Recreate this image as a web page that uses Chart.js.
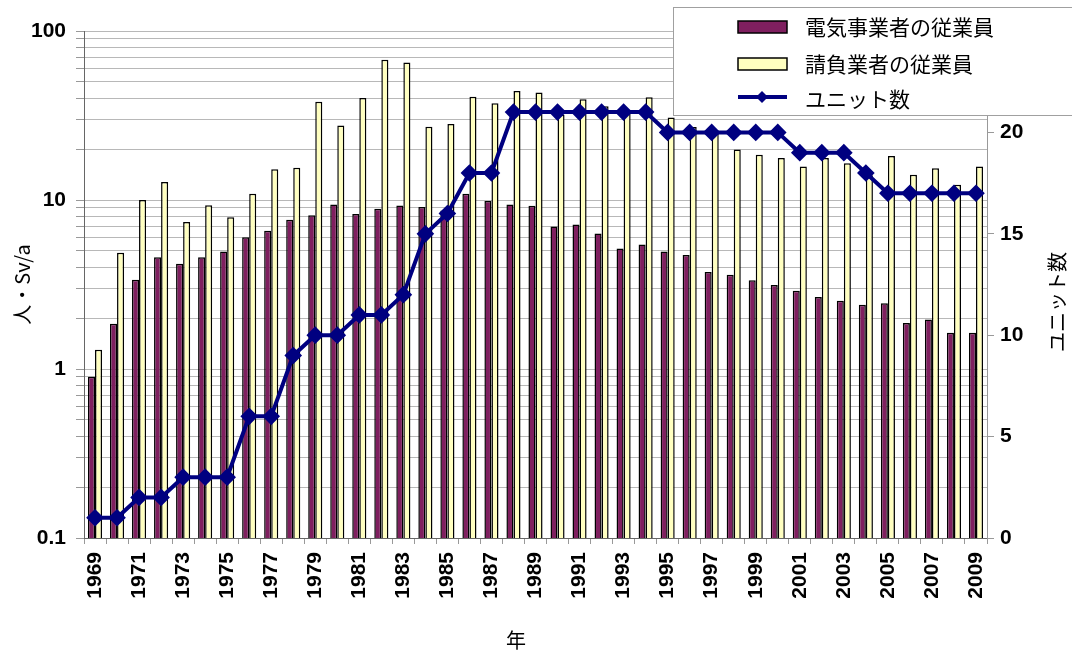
<!DOCTYPE html>
<html>
<head>
<meta charset="utf-8">
<script src="https://cdn.jsdelivr.net/npm/chart.js@4"></script>
<style>
  body { margin: 0; background: #fff; }
  #wrap { width: 1072px; height: 655px; position: relative; }
</style>
</head>
<body>
<div id="wrap"><canvas id="chart"></canvas></div>
<script>
const years = ['1969','1970','1971','1972','1973','1974','1975','1976','1977','1978',
  '1979','1980','1981','1982','1983','1984','1985','1986','1987','1988',
  '1989','1990','1991','1992','1993','1994','1995','1996','1997','1998',
  '1999','2000','2001','2002','2003','2004','2005','2006','2007','2008','2009'];

// 電気事業者の従業員 (人・Sv/a)
const denkiStaff = [0.9, 1.85, 3.37, 4.59, 4.2, 4.59, 4.96, 6.02, 6.57, 7.65,
  8.12, 9.41, 8.27, 8.87, 9.29, 9.08, 8.67, 10.9, 9.86, 9.41,
  9.25, 6.98, 7.17, 6.33, 5.17, 5.46, 4.96, 4.72, 3.75, 3.61,
  3.35, 3.14, 2.9, 2.67, 2.53, 2.4, 2.45, 1.87, 1.96, 1.64, 1.64];

// 請負業者の従業員 (人・Sv/a)
const ukeoiStaff = [1.3, 4.87, 10.0, 12.8, 7.4, 9.3, 7.9, 10.9, 15.2, 15.5,
  38.1, 27.6, 40.1, 67.6, 65.1, 27.1, 28.2, 40.8, 37.4, 44.2,
  43.2, 32, 39.4, 35.9, 33, 40.6, 30.8, 27, 25, 19.9,
  18.5, 17.7, 15.8, 17.7, 16.5, 14, 18.2, 14.1, 15.4, 12.3, 15.8];

// ユニット数
const units = [1, 1, 2, 2, 3, 3, 3, 6, 6, 9,
  10, 10, 11, 11, 12, 15, 16, 18, 18, 21,
  21, 21, 21, 21, 21, 21, 20, 20, 20, 20,
  20, 20, 19, 19, 19, 18, 17, 17, 17, 17, 17];

const leftDecades = [0.1, 1, 10, 100];
const rightTicks = [0, 5, 10, 15, 20];

const FONT = "'Liberation Sans', Arial, 'Noto Sans CJK JP', sans-serif";
const JP_FONT = "'Noto Sans CJK JP', 'Liberation Sans', sans-serif";
const MAROON = '#7f1f5f';
const CREAM = '#ffffc0';
const NAVY = '#000080';

// log ticks 1..9 in every decade so the grid has the minor lines
function logTickValues() {
  const out = [];
  for (let i = 0; i < leftDecades.length - 1; i++) {
    for (let m = 1; m < 10; m++) out.push(+(leftDecades[i] * m).toPrecision(3));
  }
  out.push(leftDecades[leftDecades.length - 1]);
  return out;
}

const legendBox = {
  id: 'legendBox',
  afterDraw(chart) {
    const ctx = chart.ctx;
    ctx.save();
    ctx.fillStyle = '#fff';
    ctx.strokeStyle = '#a0a0a0';
    ctx.lineWidth = 1;
    ctx.fillRect(673, 7, 410, 108);
    ctx.strokeRect(673.5, 7.5, 410, 108);

    ctx.font = '21px ' + JP_FONT;
    ctx.textBaseline = 'middle';
    ctx.textAlign = 'left';
    const items = [
      { text: '電気事業者の従業員', y: 27, kind: 'bar', color: MAROON },
      { text: '請負業者の従業員', y: 64, kind: 'bar', color: CREAM },
      { text: 'ユニット数', y: 99, kind: 'line', color: NAVY }
    ];
    items.forEach(it => {
      if (it.kind === 'bar') {
        ctx.fillStyle = it.color;
        ctx.fillRect(738, it.y - 6, 49, 12);
        ctx.strokeStyle = '#000';
        ctx.lineWidth = 1.5;
        ctx.strokeRect(738, it.y - 6, 49, 12);
      } else {
        ctx.strokeStyle = it.color;
        ctx.lineWidth = 4;
        ctx.beginPath();
        ctx.moveTo(738, it.y - 2);
        ctx.lineTo(787, it.y - 2);
        ctx.stroke();
        ctx.fillStyle = it.color;
        ctx.beginPath();
        ctx.moveTo(762, it.y - 8);
        ctx.lineTo(768, it.y - 2);
        ctx.lineTo(762, it.y + 4);
        ctx.lineTo(756, it.y - 2);
        ctx.closePath();
        ctx.fill();
      }
      ctx.fillStyle = '#000';
      ctx.fillText(it.text, 805, it.y);
    });

    // x axis title, a little left of the plot centre as in the original
    ctx.font = '20px ' + JP_FONT;
    ctx.textAlign = 'center';
    ctx.fillText('年', 516, 640);

    // right axis title, reading bottom to top
    ctx.translate(1057, 302);
    ctx.rotate(-Math.PI / 2);
    ctx.fillText('ユニット数', 0, 0);
    ctx.restore();
  }
};

new Chart(document.getElementById('chart'), {
  data: {
    labels: years,
    datasets: [
      {
        type: 'line',
        label: 'ユニット数',
        data: units,
        yAxisID: 'y2',
        borderColor: NAVY,
        backgroundColor: NAVY,
        borderWidth: 4,
        pointStyle: 'rectRot',
        pointRadius: 6,
        pointBackgroundColor: NAVY,
        pointBorderColor: NAVY,
        tension: 0,
        order: 0
      },
      {
        type: 'bar',
        label: '電気事業者の従業員',
        data: denkiStaff,
        yAxisID: 'y',
        backgroundColor: MAROON,
        borderColor: '#000',
        borderWidth: 1.5,
        categoryPercentage: 0.64,
        barPercentage: 1.0,
        order: 1
      },
      {
        type: 'bar',
        label: '請負業者の従業員',
        data: ukeoiStaff,
        yAxisID: 'y',
        backgroundColor: CREAM,
        borderColor: '#000',
        borderWidth: 1.5,
        categoryPercentage: 0.64,
        barPercentage: 1.0,
        order: 2
      }
    ]
  },
  options: {
    responsive: true,
    maintainAspectRatio: false,
    animation: false,
    layout: { padding: { top: 31, left: 0, right: 0, bottom: 0 } },
    plugins: { legend: { display: false }, tooltip: { enabled: false } },
    scales: {
      x: {
        offset: true,
        grid: { display: true, drawOnChartArea: false, tickLength: 6, color: '#999', offset: true },
        border: { color: '#666', width: 1 },
        ticks: {
          autoSkip: false,
          minRotation: 90,
          maxRotation: 90,
          padding: 8,
          color: '#000',
          font: { family: FONT, size: 21, weight: 'bold' },
          callback: (v, i) => (i % 2 === 0 ? years[i] : '')
        },
        afterFit: s => { s.height = 117; }
      },
      y: {
        type: 'logarithmic',
        position: 'left',
        min: 0.1,
        max: 100,
        afterBuildTicks: s => { s.ticks = logTickValues().map(v => ({ value: v })); },
        grid: { color: '#b8b8b8', lineWidth: 1, tickLength: 8, tickColor: '#999' },
        border: { color: '#666', width: 1 },
        ticks: {
          autoSkip: false,
          padding: 10,
          color: '#000',
          font: { family: FONT, size: 21, weight: 'bold' },
          callback: v => (leftDecades.includes(v) ? String(v) : '')
        },
        title: {
          display: true,
          text: '人・Sv/a',
          color: '#000',
          font: { family: JP_FONT, size: 20 },
          padding: { top: 10, bottom: 0 }
        },
        afterFit: s => { s.width = 84; }
      },
      y2: {
        type: 'linear',
        position: 'right',
        min: 0,
        max: 25,
        afterBuildTicks: s => { s.ticks = rightTicks.map(v => ({ value: v })); },
        grid: { drawOnChartArea: false, tickLength: 7, color: '#999' },
        border: { color: '#999', width: 1 },
        ticks: {
          padding: 6,
          color: '#000',
          font: { family: FONT, size: 21, weight: 'bold' }
        },
        afterFit: s => { s.width = 85; }
      }
    }
  },
  plugins: [legendBox]
});
</script>
</body>
</html>
